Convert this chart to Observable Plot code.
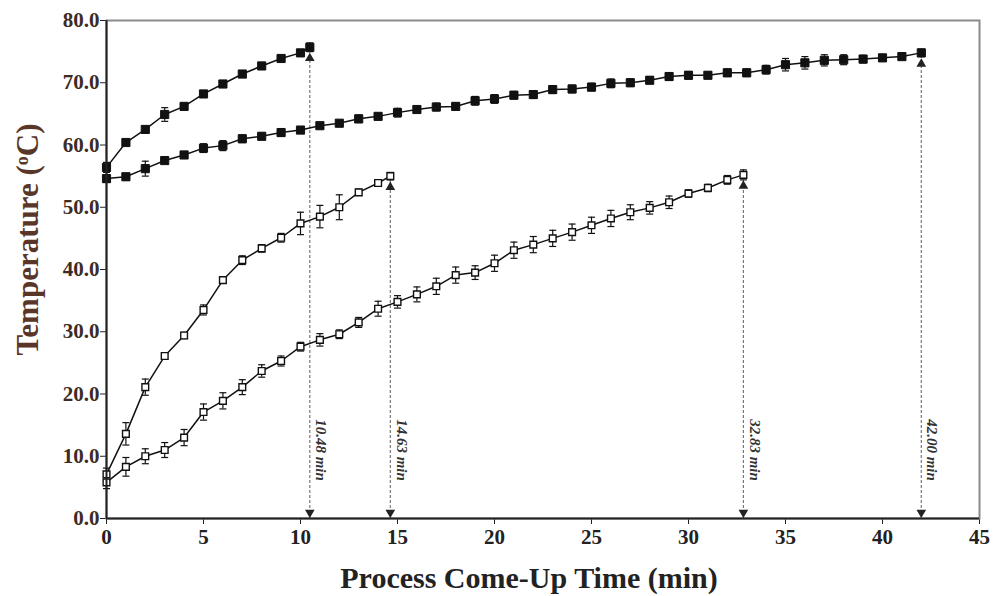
<!DOCTYPE html>
<html><head><meta charset="utf-8">
<script src="https://cdn.jsdelivr.net/npm/d3@7"></script>
<script src="https://cdn.jsdelivr.net/npm/@observablehq/plot@0.6"></script>
<style>
body{margin:0;background:#fff}
svg{overflow:visible}
</style>
</head><body><div id="chart"></div>
<script>
// Series A: filled squares, fast heating (ends at 10.48 min)
const minutesA = [0,1,2,3,4,5,6,7,8,9,10,10.48];
const tempA    = [56.4,60.4,62.5,64.9,66.2,68.2,69.8,71.4,72.7,73.9,74.8,75.7];
const errA     = [0.8,0.4,0.5,1.1,0.5,0.5,0.4,0.4,0.3,0.4,0.5,0.7];

// Series B: filled squares, slow heating (ends at 42.00 min)
const minutesB = [0,1,2,3,4,5,6,7,8,9,10,11,12,13,14,15,16,17,18,19,20,21,22,23,24,25,26,27,28,29,30,31,32,33,34,35,36,37,38,39,40,41,42];
const tempB    = [54.6,54.9,56.2,57.5,58.4,59.5,59.9,61.0,61.4,62.0,62.4,63.1,63.5,64.2,64.6,65.2,65.7,66.1,66.2,67.1,67.4,68.0,68.1,68.9,69.0,69.3,69.9,70.0,70.4,71.0,71.2,71.2,71.6,71.6,72.1,72.9,73.2,73.6,73.7,73.8,74.0,74.2,74.8];
const errB     = [0.6,0.5,1.2,0.5,0.5,0.7,0.8,0.6,0.5,0.6,0.5,0.4,0.4,0.6,0.5,0.7,0.5,0.6,0.5,0.7,0.7,0.6,0.6,0.6,0.6,0.6,0.7,0.6,0.5,0.6,0.6,0.5,0.6,0.6,0.7,1.0,1.0,0.9,0.8,0.6,0.5,0.5,0.6];

// Series C: open squares, fast heating (ends at 14.63 min)
const minutesC = [0,1,2,3,4,5,6,7,8,9,10,11,12,13,14,14.63];
const tempC    = [7.1,13.6,21.1,26.1,29.4,33.5,38.3,41.5,43.4,45.1,47.4,48.5,50.0,52.4,53.9,55.0];
const errC     = [1.0,1.8,1.3,0.5,0.5,0.8,0.5,0.7,0.6,0.7,1.8,1.8,2.0,0.5,0.5,0.6];

// Series D: open squares, slow heating (ends at 32.83 min)
const minutesD = [0,1,2,3,4,5,6,7,8,9,10,11,12,13,14,15,16,17,18,19,20,21,22,23,24,25,26,27,28,29,30,31,32,32.83];
const tempD    = [5.8,8.3,10.0,11.0,13.0,17.1,18.9,21.1,23.7,25.3,27.6,28.7,29.6,31.5,33.7,34.8,36.0,37.3,39.1,39.5,41.0,43.1,44.0,45.0,46.0,47.1,48.2,49.2,49.9,50.8,52.2,53.1,54.4,55.2];
const errD     = [1.0,1.5,1.2,1.2,1.3,1.3,1.3,1.2,1.0,0.8,0.7,1.0,0.7,0.8,1.2,1.0,1.2,1.3,1.3,1.1,1.3,1.3,1.3,1.3,1.3,1.3,1.3,1.2,1.0,1.0,0.6,0.6,0.7,0.8];

// End-point (come-up time) labels
const endLabels = ["10.48 min","14.63 min","32.83 min","42.00 min"];

const yTicks = [0,10,20,30,40,50,60,70,80];
const xTicks = [0,5,10,15,20,25,30,35,40,45];
const xTitle = "Process Come-Up Time (min)";
const yTitle = "Temperature (oC)";

const series = [
  {key:"A", t:minutesA, v:tempA, e:errA, filled:true},
  {key:"B", t:minutesB, v:tempB, e:errB, filled:true},
  {key:"C", t:minutesC, v:tempC, e:errC, filled:false},
  {key:"D", t:minutesD, v:tempD, e:errD, filled:false}
];
const rows = series.flatMap(s => s.t.map((t,i) => ({series:s.key, t, v:s.v[i], e:s.e[i], filled:s.filled})));
const endOrder = ["A","C","D","B"];
const ends = endOrder.map((k,i) => {
  const s = series.find(d => d.key === k);
  return {t: s.t[s.t.length-1], v: s.v[s.v.length-1], label: endLabels[i]};
});

const cap = {draw(ctx){ ctx.moveTo(-3.5,0); ctx.lineTo(3.5,0); }};

const chart = Plot.plot({
  width: 994, height: 596,
  marginLeft: 106, marginRight: 15, marginTop: 20, marginBottom: 78,
  style: {fontFamily: "'Liberation Serif', serif", fontSize: "21px", fontWeight: "bold", background: "#fff", color: "#222"},
  x: {domain: [0,45], ticks: xTicks, tickSize: 6, tickPadding: 5, label: null},
  y: {domain: [0,80], ticks: yTicks, tickFormat: d3.format(".1f"), tickSize: 6, tickPadding: 1, label: null},
  marks: [
    Plot.frame({stroke: "#8a8a8a", strokeWidth: 2}),
    Plot.ruleX(ends, {x: "t", y1: d => 0, y2: "v", stroke: "#777", strokeWidth: 1.2, strokeDasharray: "3,2"}),
    Plot.dot(ends, {x: "t", y: "v", symbol: "triangle", r: 3.6, fill: "#222", dy: 11}),
    Plot.dot(ends, {x: "t", y: d => 0, symbol: "triangle", rotate: 180, r: 3.6, fill: "#222", dy: -6}),
    Plot.text(ends, {x: "t", y: d => 11.0, text: "label", rotate: 90, dx: 11, fontStyle: "italic", fontWeight: "bold", fontSize: 15, fill: "#333"}),
    Plot.line(rows, {x: "t", y: "v", z: "series", stroke: "#111", strokeWidth: 1.5}),
    Plot.ruleX(rows, {x: "t", y1: d => d.v - d.e, y2: d => d.v + d.e, stroke: "#111", strokeWidth: 1.2}),
    Plot.dot(rows, {x: "t", y: d => d.v + d.e, symbol: cap, stroke: "#111", strokeWidth: 1.2, fill: "none"}),
    Plot.dot(rows, {x: "t", y: d => d.v - d.e, symbol: cap, stroke: "#111", strokeWidth: 1.2, fill: "none"}),
    Plot.dot(rows, {filter: d => d.filled, x: "t", y: "v", symbol: "square", r: 4.6, fill: "#111", stroke: "#111", strokeWidth: 1}),
    Plot.dot(rows, {filter: d => !d.filled, x: "t", y: "v", symbol: "square", r: 3.8, fill: "#fff", stroke: "#111", strokeWidth: 1.4}),
    Plot.ruleX([0], {stroke: "#222", strokeWidth: 2}),
    Plot.ruleY([0], {stroke: "#222", strokeWidth: 2}),
    Plot.text([xTitle], {frameAnchor: "bottom", lineAnchor: "middle", dx: -14, dy: 60, fontSize: 30, fontWeight: "bold", fill: "#222", text: d => d}),
    Plot.text([yTitle], {frameAnchor: "left", textAnchor: "middle", lineAnchor: "middle", dx: -78, dy: -30, rotate: -90, fontSize: 31, fontWeight: "bold", fill: "#5a3628", text: d => d})
  ]
});
document.getElementById("chart").append(chart);

// superscript "o" in the y title
d3.select(chart).selectAll("text").each(function(){
  const el = d3.select(this);
  if (this.textContent === yTitle) {
    el.text(null);
    el.append("tspan").text("Temperature (");
    el.append("tspan").attr("baseline-shift", "super").attr("font-size", "18").text("o");
    el.append("tspan").text("C)");
  }
});
// color tick labels
d3.select(chart).selectAll('[aria-label^="y-axis"] text').attr("fill", "#3d2b25");
d3.select(chart).selectAll('[aria-label^="x-axis"] text').attr("fill", "#222");
</script>
</body></html>
